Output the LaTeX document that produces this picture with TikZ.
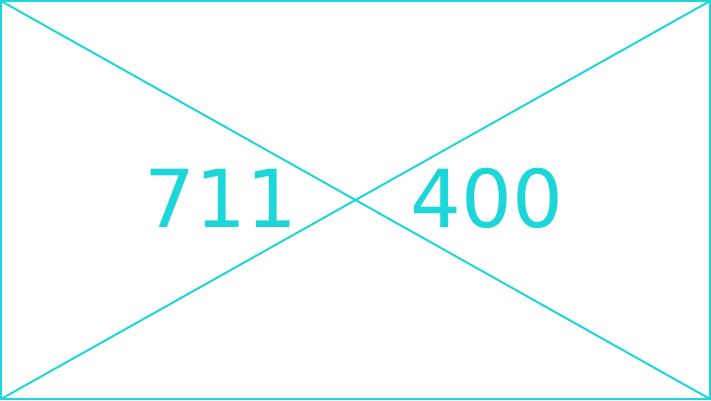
\documentclass[tikz,border=0pt]{standalone}
\usepackage{fontspec}
\newfontfamily\digitfont{DejaVu Sans}
\definecolor{cy}{HTML}{1CD6DA}
\begin{document}
\begin{tikzpicture}[x=1pt,y=-1pt,
  edge/.style={draw=cy,line width=2pt},
  lbl/.style={text=cy,inner sep=0pt,font=\digitfont\fontsize{80}{80}\selectfont}]
\useasboundingbox (0,0) rectangle (711,400);
\coordinate (tl) at (1,1);
\coordinate (tr) at (710,1);
\coordinate (bl) at (1,399);
\coordinate (br) at (710,399);
\draw[edge] (tl) rectangle (br);
\draw[edge] (tl) -- (br);
\draw[edge] (tr) -- (bl);
\node[lbl] (w) at (221,198) {711};
\node[lbl] (h) at (487,198) {400};
\end{tikzpicture}
\end{document}
